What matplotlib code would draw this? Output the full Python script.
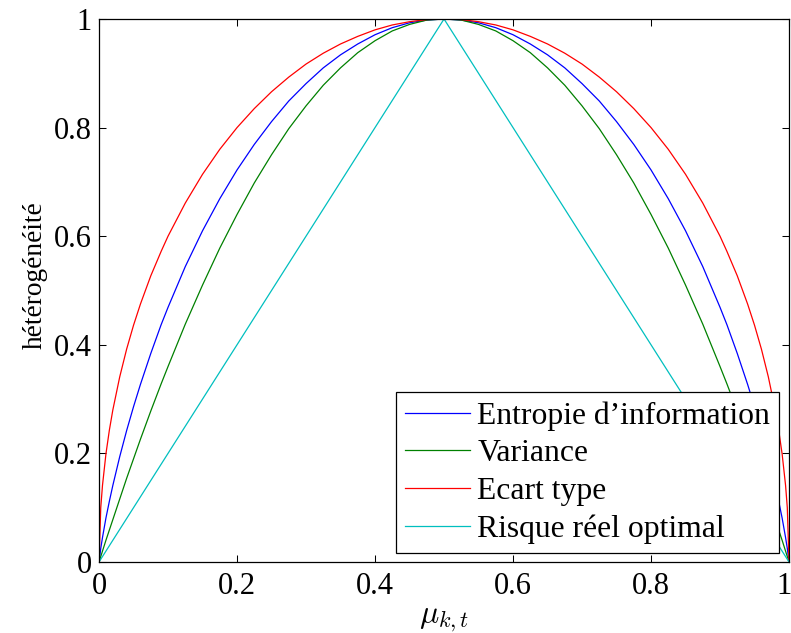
import matplotlib
matplotlib.use("Agg")
import matplotlib.pyplot as plt
import matplotlib.transforms as mtransforms

plt.rcParams['font.family'] = ['Liberation Serif', 'DejaVu Serif']
plt.rcParams['mathtext.fontset'] = 'cm'

# Data
mu = [0, 0.0025, 0.005, 0.01, 0.015, 0.02, 0.03, 0.04, 0.05, 0.06, 0.075, 0.09, 0.1,
      0.125, 0.15, 0.175, 0.2, 0.225, 0.25, 0.275, 0.3, 0.325, 0.35, 0.375, 0.4, 0.425,
      0.45, 0.475, 0.5,
      0.525, 0.55, 0.575, 0.6, 0.625, 0.65, 0.675, 0.7, 0.725, 0.75, 0.775, 0.8, 0.825,
      0.85, 0.875, 0.9, 0.91, 0.925, 0.94, 0.95, 0.96, 0.97, 0.98, 0.985, 0.99, 0.995,
      0.9975, 1]
entropie = [0, 0.025, 0.045, 0.081, 0.112, 0.141, 0.194, 0.242, 0.286, 0.327, 0.384,
            0.437, 0.469, 0.544, 0.610, 0.669, 0.722, 0.769, 0.811, 0.849, 0.881, 0.910,
            0.934, 0.954, 0.971, 0.984, 0.993, 0.998, 1.0,
            0.998, 0.993, 0.984, 0.971, 0.954, 0.934, 0.910, 0.881, 0.849, 0.811, 0.769,
            0.722, 0.669, 0.610, 0.544, 0.469, 0.437, 0.384, 0.327, 0.286, 0.242, 0.194,
            0.141, 0.112, 0.081, 0.045, 0.025, 0]
variance = [0, 0.010, 0.020, 0.040, 0.059, 0.078, 0.116, 0.154, 0.190, 0.226, 0.278,
            0.328, 0.360, 0.438, 0.510, 0.578, 0.640, 0.698, 0.750, 0.798, 0.840, 0.878,
            0.910, 0.938, 0.960, 0.978, 0.990, 0.998, 1.0,
            0.998, 0.990, 0.978, 0.960, 0.938, 0.910, 0.878, 0.840, 0.798, 0.750, 0.698,
            0.640, 0.578, 0.510, 0.438, 0.360, 0.328, 0.278, 0.226, 0.190, 0.154, 0.116,
            0.078, 0.059, 0.040, 0.020, 0.010, 0]
ecart_type = [0, 0.100, 0.141, 0.199, 0.243, 0.280, 0.341, 0.392, 0.436, 0.475, 0.527,
              0.572, 0.600, 0.661, 0.714, 0.760, 0.800, 0.835, 0.866, 0.893, 0.917, 0.937,
              0.954, 0.968, 0.980, 0.989, 0.995, 0.999, 1.0,
              0.999, 0.995, 0.989, 0.980, 0.968, 0.954, 0.937, 0.917, 0.893, 0.866, 0.835,
              0.800, 0.760, 0.714, 0.661, 0.600, 0.572, 0.527, 0.475, 0.436, 0.392, 0.341,
              0.280, 0.243, 0.199, 0.141, 0.100, 0]
risque = [0, 0.005, 0.01, 0.02, 0.03, 0.04, 0.06, 0.08, 0.10, 0.12, 0.15, 0.18, 0.20,
          0.25, 0.30, 0.35, 0.40, 0.45, 0.50, 0.55, 0.60, 0.65, 0.70, 0.75, 0.80, 0.85,
          0.90, 0.95, 1.0,
          0.95, 0.90, 0.85, 0.80, 0.75, 0.70, 0.65, 0.60, 0.55, 0.50, 0.45, 0.40, 0.35,
          0.30, 0.25, 0.20, 0.18, 0.15, 0.12, 0.10, 0.08, 0.06, 0.04, 0.03, 0.02, 0.01,
          0.005, 0]

series_labels = ["Entropie d\u2019information", "Variance", "Ecart type",
                 "Risque r\u00e9el optimal"]
series_colors = ["#0000ff", "#008000", "#ff0000", "#00bfbf"]

ticks = [0, 0.2, 0.4, 0.6, 0.8, 1]
tick_labels = ["0", "0.2", "0.4", "0.6", "0.8", "1"]

fig = plt.figure(figsize=(7.91, 6.33), dpi=100)
ax = fig.add_axes([0.1252, 0.1122, 0.8723, 0.8578])

for ys, lab, col in zip([entropie, variance, ecart_type, risque], series_labels, series_colors):
    ax.plot(mu, ys, color=col, lw=0.9, label=lab)

ax.set_xlim(0, 1)
ax.set_ylim(0, 1)
ax.set_xticks(ticks)
ax.set_xticklabels(tick_labels)
ax.set_yticks(ticks)
ax.set_yticklabels(tick_labels)
ax.tick_params(direction='in', length=5, width=0.75, top=True, right=True,
               labelsize=22)
ax.tick_params(axis='x', pad=7)
ax.tick_params(axis='y', pad=5)
for s in ax.spines.values():
    s.set_linewidth(0.9)

# keep the last x tick label just inside the figure edge
last = ax.get_xticklabels()[-1]
last.set_transform(last.get_transform() +
                   mtransforms.ScaledTranslation(-5 / 100, 0, fig.dpi_scale_trans))

ax.set_xlabel(r"$\mu_{k,t}$", fontsize=23, labelpad=3)
ax.set_ylabel("h\u00e9t\u00e9rog\u00e9n\u00e9it\u00e9", fontsize=19.7)
ax.yaxis.set_label_coords(-0.074, 0.5285)

leg = ax.legend(loc='lower right', bbox_to_anchor=(0.9855, 0.0166), borderaxespad=0,
                fontsize=22.8, fancybox=False, edgecolor='black', framealpha=1,
                handlelength=2.07, handletextpad=0.22, labelspacing=0.27,
                borderpad=0.28)
leg.get_frame().set_linewidth(0.9)

fig.savefig("out.png", dpi=100)
